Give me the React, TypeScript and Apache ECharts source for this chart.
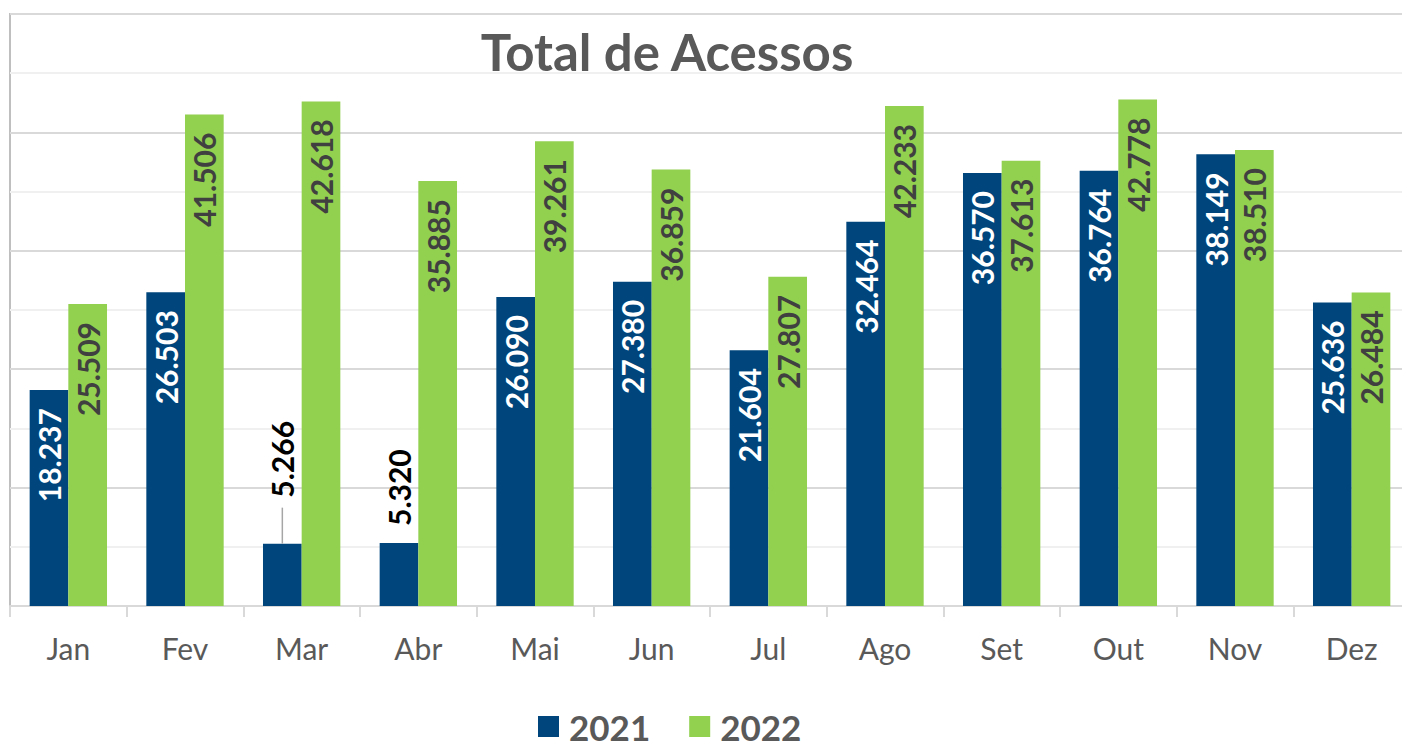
import React, { useEffect, useRef } from "react";
import * as echarts from "echarts";

const categories = ["Jan", "Fev", "Mar", "Abr", "Mai", "Jun", "Jul", "Ago", "Set", "Out", "Nov", "Dez"];
const values2021 = [18237, 26503, 5266, 5320, 26090, 27380, 21604, 32464, 36570, 36764, 38149, 25636];
const values2022 = [25509, 41506, 42618, 35885, 39261, 36859, 27807, 42233, 37613, 42778, 38510, 26484];
const seriesNames = ["2021", "2022"];
const outsideLabelIdx = [2, 3];
const leaderIdx = 2;

const fmt = (v: number) => String(v).replace(/\B(?=(\d{3})+(?!\d))/g, ".");

const BLUE = "#00467C";
const GREEN = "#92D050";
const FONT = "Lato";

export default function App() {
  const ref = useRef<HTMLDivElement>(null);
  useEffect(() => {
    if (!ref.current) return;
    const chart = echarts.init(ref.current, undefined, { renderer: "svg" });
    const insideLabel = (color: string) => ({
      show: true,
      position: "insideTop",
      rotate: 90,
      align: "right",
      verticalAlign: "middle",
      distance: 18,
      color,
      fontFamily: FONT,
      fontWeight: "bold",
      fontSize: 30,
      formatter: (p: any) => fmt(p.value),
    });
    const data2021 = values2021.map((v, i) =>
      outsideLabelIdx.includes(i)
        ? {
            value: v,
            label: {
              position: "top",
              align: "left",
              verticalAlign: "middle",
              distance: i === leaderIdx ? 46 : 17,
              color: "#000000",
            },
          }
        : v
    );
    chart.setOption({
      animation: false,
      backgroundColor: "#ffffff",
      title: {
        text: "Total de Acessos",
        left: 667,
        textAlign: "center",
        top: 26,
        padding: 0,
        textStyle: { fontFamily: FONT, fontWeight: "bold", fontSize: 51, color: "#595959" },
      },
      legend: {
        data: seriesNames,
        left: 538,
        top: 709,
        padding: 0,
        icon: "rect",
        itemWidth: 21,
        itemHeight: 21,
        itemGap: 39,
        textStyle: {
          fontFamily: FONT,
          fontWeight: "bold",
          fontSize: 35,
          lineHeight: 30,
          color: "#595959",
          padding: [0, 0, 0, 5],
        },
      },
      grid: {
        left: 10,
        right: 0,
        top: 14,
        bottom: 138,
        show: true,
        borderColor: "#bfbfbf",
        borderWidth: 2,
      },
      xAxis: {
        type: "category",
        data: categories,
        axisLine: { lineStyle: { color: "#d9d9d9", width: 2 } },
        axisTick: { show: true, length: 11, lineStyle: { color: "#d9d9d9", width: 2 } },
        axisLabel: { fontFamily: FONT, fontSize: 30, color: "#595959", margin: 27 },
      },
      yAxis: {
        type: "value",
        min: 0,
        max: 50000,
        interval: 10000,
        axisLabel: { show: false },
        axisLine: { show: false },
        axisTick: { show: false },
        splitLine: { lineStyle: { color: "#d9d9d9", width: 2 } },
        minorTick: { show: false, splitNumber: 2 },
        minorSplitLine: { show: true, lineStyle: { color: "#f0f0f0", width: 2 } },
      },
      series: [
        {
          name: seriesNames[0],
          type: "bar",
          data: data2021,
          itemStyle: { color: BLUE },
          barGap: "0%",
          barCategoryGap: "33.7%",
          label: insideLabel("#ffffff"),
        },
        {
          name: seriesNames[1],
          type: "bar",
          data: values2022,
          itemStyle: { color: GREEN },
          barGap: "0%",
          barCategoryGap: "33.7%",
          label: insideLabel("#404040"),
        },
      ],
    });
    try {
      const model: any = (chart as any).getModel();
      const s = model.getSeriesByIndex(0);
      const lay = s.getData().getItemLayout(leaderIdx);
      if (lay) {
        const cx = lay.x + lay.width / 2;
        const topY = lay.y + Math.min(lay.height, 0);
        chart.setOption({
          graphic: [
            {
              type: "line",
              shape: { x1: cx, y1: topY, x2: cx, y2: topY - 36 },
              style: { stroke: "#a6a6a6", lineWidth: 1.5 },
              z: 10,
            },
          ],
        });
      }
    } catch (e) {}
    return () => chart.dispose();
  }, []);
  return (
    <div style={{ position: "fixed", left: 0, top: 0, width: 1402, height: 744, overflow: "hidden", background: "#fff" }}>
      <div ref={ref} style={{ width: 1410, height: 744 }} />
    </div>
  );
}
